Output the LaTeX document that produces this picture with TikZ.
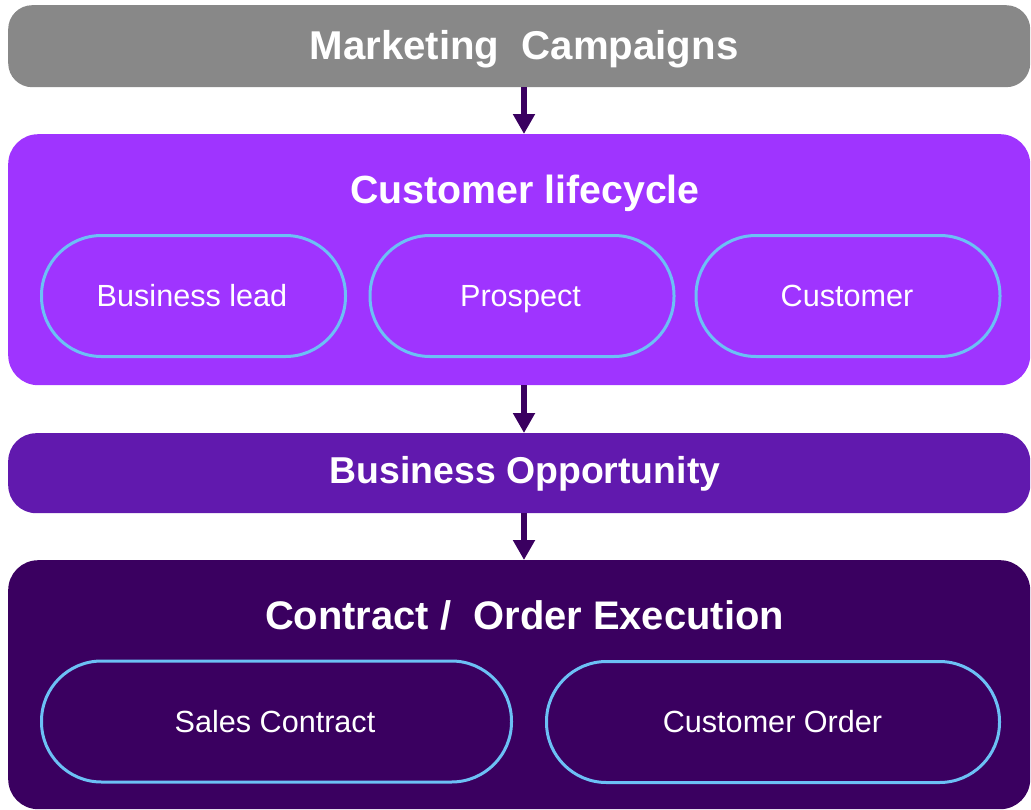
\documentclass[tikz,border=0pt]{standalone}
\usepackage{fontspec}
\setmainfont{Liberation Sans}
\usetikzlibrary{arrows.meta}
\definecolor{mgray}{HTML}{888888}
\definecolor{lifec}{HTML}{9F34FF}
\definecolor{oppc}{HTML}{6119AE}
\definecolor{contc}{HTML}{3A0060}
\definecolor{pillc}{HTML}{6CC0F5}
\tikzset{
  band/.style={draw=none, rectangle, minimum width=1022pt, anchor=north west, inner sep=0pt},
  title/.style={text=white, anchor=base, inner sep=0pt},
  pill/.style={draw=pillc, line width=3pt, rectangle, rounded corners=60pt, minimum height=121pt, inner sep=0pt},
  pilltext/.style={text=white, anchor=base, inner sep=0pt, font=\fontsize{30.6}{34}\selectfont},
  flow/.style={draw=contc, line width=6pt, -{Triangle[width=21pt,length=20pt]}}
}
\begin{document}
\begin{tikzpicture}[x=1pt,y=-1pt]
\useasboundingbox (0,0) rectangle (1031,809);
% bands
\node[band, fill=mgray, minimum height=82pt, rounded corners=24pt] (mc) at (8,5) {};
\node[band, fill=lifec, minimum height=251pt, rounded corners=30pt] (cl) at (8,134) {};
\node[band, fill=oppc, minimum height=80pt, rounded corners=28pt] (bo) at (8,433) {};
\node[band, fill=contc, minimum height=249pt, rounded corners=30pt] (co) at (8,560) {};
% titles
\node[title, font=\bfseries\fontsize{40.2}{44}\selectfont] (tmc) at (524,59) {Marketing\ \ Campaigns};
\node[title, font=\bfseries\fontsize{39.3}{44}\selectfont] (tcl) at (525,203) {Customer lifecycle};
\node[title, font=\bfseries\fontsize{37.4}{44}\selectfont] (tbo) at (525,483) {Business Opportunity};
\node[title, font=\bfseries\fontsize{39.9}{44}\selectfont] (tco) at (524.5,629) {Contract /\ \ Order Execution};
% pills
\node[pill, minimum width=304pt] (lead) at (193.5,296) {};
\node[pill, minimum width=304pt] (pros) at (522,296) {};
\node[pill, minimum width=304pt] (cust) at (848,296) {};
\node[pill, minimum width=470pt] (sc) at (276.5,721.5) {};
\node[pill, minimum width=453pt] (cord) at (773,722) {};
\node[pilltext] (tlead) at (192,306) {Business lead};
\node[pilltext] (tpros) at (520.5,306) {Prospect};
\node[pilltext] (tcust) at (847,306) {Customer};
\node[pilltext] (tsc) at (275,732) {Sales Contract};
\node[pilltext] (tcord) at (772.5,732) {Customer Order};
% arrows
\draw[flow] (mc.south -| tmc.base) -- (cl.north -| tmc.base);
\draw[flow] (cl.south -| tmc.base) -- (bo.north -| tmc.base);
\draw[flow] (bo.south -| tmc.base) -- (co.north -| tmc.base);
\end{tikzpicture}
\end{document}
